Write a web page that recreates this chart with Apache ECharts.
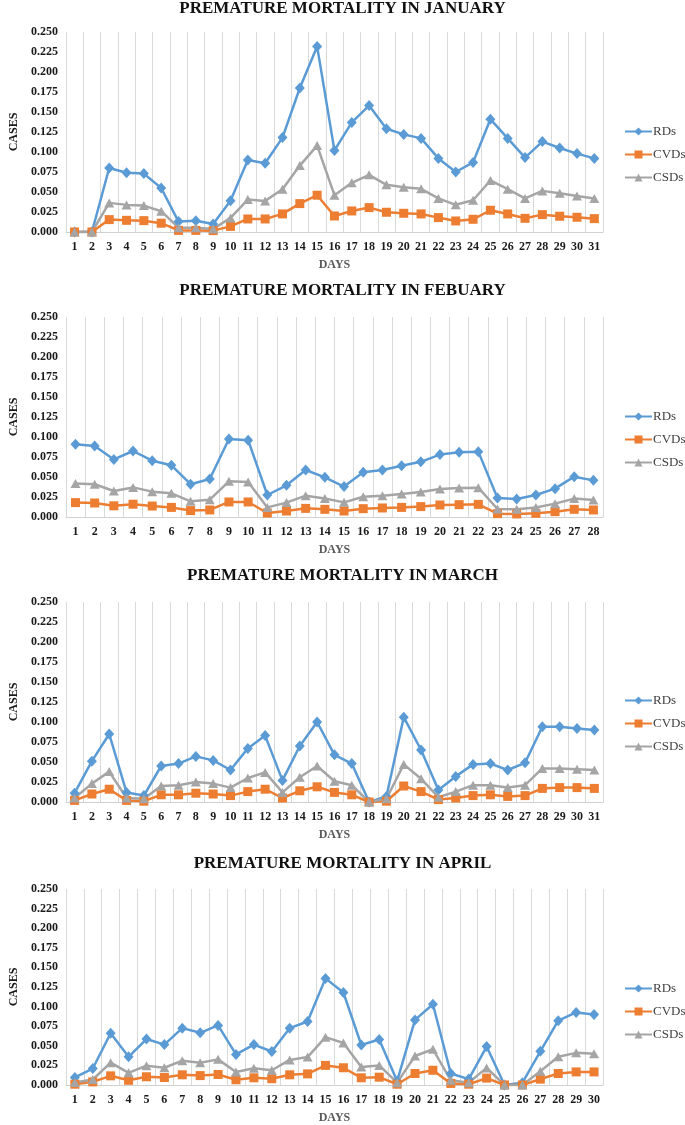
<!DOCTYPE html>
<html><head><meta charset="utf-8">
<script src="https://cdn.jsdelivr.net/npm/echarts@6/dist/echarts.min.js"></script>
<style>html,body{margin:0;padding:0;background:#fff}#c{width:685px;height:1125px}</style>
</head><body><div id="c"></div>
<script>
// ---- DATA ----
const daysJan = ['1','2','3','4','5','6','7','8','9','10','11','12','13','14','15','16','17','18','19','20','21','22','23','24','25','26','27','28','29','30','31'];
const daysFeb = ['1','2','3','4','5','6','7','8','9','10','11','12','13','14','15','16','17','18','19','20','21','22','23','24','25','26','27','28'];
const daysMar = ['1','2','3','4','5','6','7','8','9','10','11','12','13','14','15','16','17','18','19','20','21','22','23','24','25','26','27','28','29','30','31'];
const daysApr = ['1','2','3','4','5','6','7','8','9','10','11','12','13','14','15','16','17','18','19','20','21','22','23','24','25','26','27','28','29','30'];

const titles = ['PREMATURE MORTALITY IN JANUARY','PREMATURE MORTALITY IN FEBUARY','PREMATURE MORTALITY IN MARCH','PREMATURE MORTALITY IN APRIL'];
const seriesNames = ['RDs','CVDs','CSDs'];
const yTicks = ['0.000','0.025','0.050','0.075','0.100','0.125','0.150','0.175','0.200','0.225','0.250'];

const janRDs  = [0,0,0.080,0.074,0.073,0.055,0.013,0.014,0.010,0.039,0.090,0.086,0.118,0.180,0.232,0.102,0.137,0.158,0.129,0.122,0.117,0.092,0.075,0.087,0.141,0.117,0.093,0.113,0.105,0.098,0.092];
const janCVDs = [0,0,0.0155,0.0146,0.0142,0.011,0.002,0.002,0.0017,0.007,0.0163,0.0163,0.0226,0.0355,0.046,0.020,0.0263,0.0305,0.0247,0.0234,0.0226,0.018,0.0138,0.0159,0.0272,0.0226,0.0171,0.0217,0.0197,0.0184,0.0167];
const janCSDs = [0,0,0.0364,0.0339,0.033,0.026,0.0054,0.0054,0.0038,0.0176,0.0405,0.0389,0.0535,0.083,0.108,0.046,0.0615,0.0715,0.059,0.056,0.054,0.042,0.034,0.0397,0.0644,0.0535,0.042,0.0514,0.0485,0.045,0.0418];

const febRDs  = [0.091,0.0888,0.072,0.0825,0.0704,0.0646,0.041,0.0475,0.0975,0.096,0.0275,0.0396,0.0588,0.0496,0.038,0.056,0.0588,0.064,0.069,0.078,0.0808,0.0817,0.0238,0.0225,0.0275,0.0354,0.0504,0.0458];
const febCVDs = [0.018,0.0175,0.014,0.016,0.0137,0.012,0.008,0.0088,0.0188,0.0188,0.005,0.0075,0.0108,0.0096,0.0075,0.0104,0.0113,0.012,0.013,0.015,0.0154,0.0158,0.0042,0.0038,0.0046,0.0067,0.0096,0.0088];
const febCSDs = [0.042,0.041,0.0325,0.037,0.0317,0.0296,0.0196,0.0217,0.0446,0.0437,0.012,0.018,0.0267,0.023,0.0183,0.0254,0.0267,0.0288,0.0312,0.035,0.0362,0.0367,0.010,0.0096,0.012,0.0167,0.023,0.0212];

const marRDs  = [0.011,0.051,0.085,0.012,0.008,0.045,0.048,0.057,0.052,0.040,0.067,0.083,0.027,0.070,0.100,0.059,0.048,0.000,0.007,0.106,0.065,0.015,0.032,0.047,0.048,0.040,0.049,0.094,0.094,0.092,0.090];
const marCVDs = [0.002,0.010,0.016,0.002,0.001,0.009,0.009,0.011,0.010,0.008,0.013,0.016,0.005,0.014,0.019,0.012,0.009,0.000,0.001,0.020,0.013,0.003,0.005,0.008,0.009,0.007,0.008,0.017,0.018,0.018,0.017];
const marCSDs = [0.005,0.023,0.038,0.005,0.004,0.020,0.021,0.025,0.023,0.018,0.030,0.037,0.012,0.031,0.045,0.026,0.021,0.000,0.004,0.047,0.029,0.006,0.013,0.021,0.021,0.018,0.021,0.042,0.042,0.041,0.040];

const aprRDs  = [0.0096,0.021,0.066,0.036,0.0586,0.0515,0.0725,0.0666,0.076,0.039,0.0515,0.0427,0.0725,0.081,0.136,0.118,0.051,0.058,0.005,0.083,0.103,0.0147,0.0075,0.049,0.000,0.003,0.043,0.082,0.0925,0.090];
const aprCVDs = [0.001,0.004,0.0117,0.006,0.0105,0.0096,0.013,0.012,0.0134,0.0067,0.0092,0.008,0.013,0.0142,0.025,0.022,0.0092,0.010,0.001,0.0147,0.0188,0.002,0.001,0.0088,0.000,0.000,0.0075,0.0147,0.0167,0.0167];
const aprCSDs = [0.0033,0.007,0.0285,0.0155,0.0247,0.022,0.031,0.0285,0.0327,0.0167,0.0213,0.0188,0.032,0.0356,0.061,0.0536,0.023,0.025,0.003,0.037,0.0456,0.006,0.003,0.0218,0.000,0.000,0.0176,0.036,0.041,0.040];

// ---- BUILD ----
const panels = [
  {days: daysJan, data: [janRDs, janCVDs, janCSDs]},
  {days: daysFeb, data: [febRDs, febCVDs, febCSDs]},
  {days: daysMar, data: [marRDs, marCVDs, marCSDs]},
  {days: daysApr, data: [aprRDs, aprCVDs, aprCSDs]}
];
const gridTops = [32, 317, 602, 889];
const titleTops = [0, 282, 567, 855];
const legendTops = [125, 410, 694, 982];
const colors = ['#5b9bd5', '#ed7d31', '#a5a5a5'];
const symbols = ['diamond', 'rect', 'triangle'];
const symSizes = [[10,11], 9, [10,9]];
const serif = '"Liberation Serif", "Times New Roman", serif';

const option = {
  animation: false,
  backgroundColor: '#fff',
  color: colors,
  title: [], grid: [], xAxis: [], yAxis: [], legend: [], series: []
};

panels.forEach((p, i) => {
  option.title.push({
    text: titles[i], left: 'center', top: titleTops[i], padding: 0,
    textStyle: {fontFamily: serif, fontWeight: 'bold', fontSize: 17, color: '#111'}
  });
  option.grid.push({left: 53, right: 82, top: gridTops[i], height: 200});
  option.xAxis.push({
    type: 'category', gridIndex: i, data: p.days, boundaryGap: true,
    name: 'DAYS', nameLocation: 'middle', nameGap: 27,
    nameTextStyle: {fontFamily: serif, fontWeight: 'bold', fontSize: 12, color: '#595959'},
    axisLine: {lineStyle: {color: '#d0d0d0', width: 1}},
    axisTick: {show: false},
    axisLabel: {interval: 0, margin: 9, fontFamily: serif, fontWeight: 'bold', fontSize: 12, color: '#1a1a1a'},
    splitLine: {show: true, interval: 0, lineStyle: {color: '#d9d9d9', width: 1}}
  });
  option.yAxis.push({
    type: 'value', gridIndex: i, min: 0, max: 0.25, interval: 0.025,
    name: 'CASES', nameLocation: 'middle', nameGap: 40, nameRotate: 90,
    nameTextStyle: {fontFamily: serif, fontWeight: 'bold', fontSize: 12, color: '#1a1a1a'},
    axisLine: {show: false}, axisTick: {show: false},
    splitLine: {show: false},
    axisLabel: {margin: 8, fontFamily: serif, fontWeight: 'bold', fontSize: 12, color: '#1a1a1a',
      formatter: v => yTicks[Math.round(v / 0.025)]}
  });
  option.legend.push({
    orient: 'vertical', left: 624, top: legendTops[i], padding: 0,
    itemWidth: 27, itemHeight: 10, itemGap: 10,
    data: seriesNames,
    textStyle: {fontFamily: serif, fontSize: 13, color: '#404040', padding: [0,0,0,-4]}
  });
  seriesNames.forEach((n, k) => {
    option.series.push({
      name: n, type: 'line', xAxisIndex: i, yAxisIndex: i,
      data: p.data[k], symbol: symbols[k], symbolSize: symSizes[k],
      lineStyle: {width: 2.5, color: colors[k]},
      itemStyle: {color: colors[k]}
    });
  });
});

const chart = echarts.init(document.getElementById('c'), null, {renderer: 'canvas'});
chart.setOption(option);
</script>
</body></html>
